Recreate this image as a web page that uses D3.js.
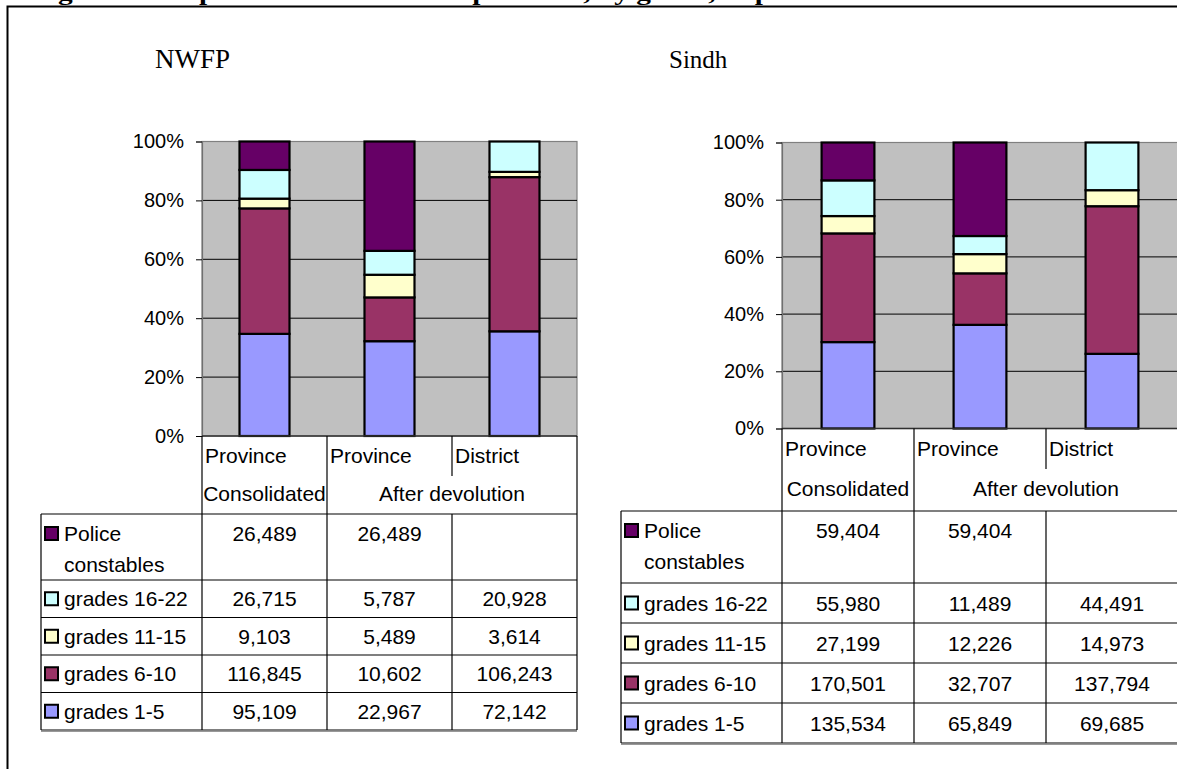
<!DOCTYPE html>
<html>
<head>
<meta charset="utf-8">
<script src="https://cdn.jsdelivr.net/npm/d3@7"></script>
<style>
  html, body { margin: 0; padding: 0; background: #fff; }
  svg { display: block; }
  .sans { font-family: "Liberation Sans", Arial, sans-serif; }
  .serif { font-family: "Liberation Serif", "Times New Roman", serif; }
</style>
</head>
<body>
<svg id="chart" width="1177" height="769"></svg>
<script>
// Sanctioned positions by grade, province-level vs district-level
const categories = ["Province", "Province", "District"];
const groupLabels = ["Consolidated", "After devolution"];
const seriesKeys = ["police", "g16", "g11", "g6", "g1"];
const seriesNames = ["Police constables", "grades 16-22", "grades 11-15", "grades 6-10", "grades 1-5"];
const seriesColors = ["#660066", "#CCFFFF", "#FFFFCC", "#993366", "#9999FF"];
const yTicks = [0, 0.2, 0.4, 0.6, 0.8, 1];

// NWFP
const nwfpPolice = [26489, 26489, null];
const nwfpG16 = [26715, 5787, 20928];
const nwfpG11 = [9103, 5489, 3614];
const nwfpG6 = [116845, 10602, 106243];
const nwfpG1 = [95109, 22967, 72142];

// Sindh
const sindhPolice = [59404, 59404, null];
const sindhG16 = [55980, 11489, 44491];
const sindhG11 = [27199, 12226, 14973];
const sindhG6 = [170501, 32707, 137794];
const sindhG1 = [135534, 65849, 69685];

const svg = d3.select("#chart");
const fmt = d3.format(",");
const pct = d3.format(".0%");
const TABLE_FONT = 21;

// page frame and the running heading that sits above the page edge
svg.append("path").attr("d", "M7.5,769V6.5H1177")
  .attr("fill", "none").attr("stroke", "#000").attr("stroke-width", 2);
svg.append("text").attr("class", "serif")
  .attr("x", 32).attr("y", 0)
  .attr("font-size", 22).attr("font-weight", "bold")
  .attr("textLength", 1077).attr("lengthAdjust", "spacingAndGlyphs")
  .text("Figure 4: Proportion of sanctioned positions, by grade, at provincial and district levels");

function buildRows(police, g16, g11, g6, g1) {
  return categories.map((c, i) => ({
    idx: i,
    police: police[i] || 0, g16: g16[i] || 0, g11: g11[i] || 0, g6: g6[i] || 0, g1: g1[i] || 0
  }));
}

function drawPanel(cfg, name, seriesArrays) {
  const g = svg.append("g");
  const rows = buildRows(...seriesArrays);

  g.append("text").attr("class", "serif")
    .attr("x", cfg.titleX).attr("y", 68).attr("font-size", cfg.titleSize)
    .text(name);

  const x = d3.scaleBand().domain(d3.range(categories.length))
    .range([cfg.axisX, cfg.plotRight]).paddingInner(0.6).paddingOuter(0.3);
  const col = d3.scaleBand().domain(d3.range(categories.length))
    .range([cfg.axisX, cfg.plotRight]).padding(0);
  const y = d3.scaleLinear().domain([0, 1]).range([cfg.plotBottom, cfg.plotTop]);

  // plot background
  g.append("rect")
    .attr("x", cfg.axisX).attr("y", cfg.plotTop)
    .attr("width", cfg.plotRight - cfg.axisX).attr("height", cfg.plotBottom - cfg.plotTop)
    .attr("fill", "#C0C0C0").attr("stroke", "#808080").attr("stroke-width", 1.2);

  // gridlines
  g.append("g").selectAll("line").data(yTicks.filter(t => t > 0 && t < 1)).join("line")
    .attr("x1", cfg.axisX).attr("x2", cfg.plotRight)
    .attr("y1", d => y(d)).attr("y2", d => y(d))
    .attr("stroke", "#000").attr("stroke-width", 1);

  // value axis
  const yAxis = d3.axisLeft(y).tickValues(yTicks).tickFormat(pct).tickSize(6).tickPadding(12);
  const ya = g.append("g").attr("transform", `translate(${cfg.axisX},0)`).call(yAxis);
  ya.select(".domain").attr("stroke", "#707070").attr("stroke-width", 1.2);
  ya.selectAll(".tick line").attr("stroke", "#000");
  ya.selectAll(".tick text").attr("class", "sans").attr("font-size", 20).attr("fill", "#000");

  // stacked 100% bars
  const stack = d3.stack().keys(seriesKeys.slice().reverse()).offset(d3.stackOffsetExpand);
  const layers = stack(rows);
  const colorOf = d3.scaleOrdinal().domain(seriesKeys).range(seriesColors);
  g.append("g").selectAll("g").data(layers).join("g")
    .attr("fill", d => colorOf(d.key))
    .selectAll("rect").data(d => d.filter(p => p[1] - p[0] > 0)).join("rect")
    .attr("x", d => x(d.data.idx)).attr("width", x.bandwidth())
    .attr("y", d => y(d[1])).attr("height", d => y(d[0]) - y(d[1]))
    .attr("stroke", "#000").attr("stroke-width", 2.2);

  // category axis line
  g.append("line").attr("x1", cfg.axisX).attr("x2", cfg.plotRight)
    .attr("y1", cfg.plotBottom).attr("y2", cfg.plotBottom)
    .attr("stroke", "#303030").attr("stroke-width", 1.5);

  // data table
  const tbl = g.append("g").attr("class", "sans");
  const rowTops = [cfg.tableTop];
  cfg.rowHeights.forEach((h, i) => rowTops.push(rowTops[i] + h));
  const tableBottom = rowTops[rowTops.length - 1];
  const lineAttrs = sel => sel.attr("stroke", "#000").attr("stroke-width", 1.2);

  rowTops.forEach(yy => {
    tbl.append("line").attr("x1", cfg.tableLeft).attr("x2", cfg.plotRight)
      .attr("y1", yy).attr("y2", yy).call(lineAttrs);
  });
  // soft shadow under the last row
  tbl.append("line").attr("x1", cfg.tableLeft).attr("x2", cfg.plotRight)
    .attr("y1", tableBottom + 1.5).attr("y2", tableBottom + 1.5)
    .attr("stroke", "#999").attr("stroke-width", 1);
  tbl.append("line").attr("x1", cfg.tableLeft).attr("x2", cfg.tableLeft)
    .attr("y1", cfg.tableTop).attr("y2", tableBottom).call(lineAttrs);
  [0, 1].forEach(i => {
    tbl.append("line").attr("x1", col(i)).attr("x2", col(i))
      .attr("y1", cfg.plotBottom).attr("y2", tableBottom).call(lineAttrs);
  });
  tbl.append("line").attr("x1", cfg.plotRight).attr("x2", cfg.plotRight)
    .attr("y1", cfg.plotBottom).attr("y2", tableBottom).call(lineAttrs);
  tbl.append("line").attr("x1", col(2)).attr("x2", col(2))
    .attr("y1", cfg.plotBottom).attr("y2", cfg.shortLineBottom).call(lineAttrs);
  tbl.append("line").attr("x1", col(2)).attr("x2", col(2))
    .attr("y1", cfg.tableTop).attr("y2", tableBottom).call(lineAttrs);

  // header: category names, then grouping labels
  tbl.selectAll("text.cat").data(categories).join("text").attr("class", "cat")
    .attr("x", (d, i) => col(i) + 3).attr("y", cfg.header1Y)
    .attr("font-size", TABLE_FONT).text(d => d);
  tbl.append("text").attr("x", col(0) + col.bandwidth() / 2).attr("y", cfg.header2Y)
    .attr("text-anchor", "middle").attr("font-size", TABLE_FONT).text(groupLabels[0]);
  tbl.append("text").attr("x", (col(1) + cfg.plotRight) / 2).attr("y", cfg.header2Y)
    .attr("text-anchor", "middle").attr("font-size", TABLE_FONT).text(groupLabels[1]);

  // body rows: legend key + values
  seriesArrays.forEach((vals, si) => {
    const top = rowTops[si];
    const h = cfg.rowHeights[si];
    const base = si === 0 ? top + 27 : top + h / 2 + 7.5;
    tbl.append("rect")
      .attr("x", cfg.tableLeft + 4).attr("y", base - 14)
      .attr("width", 13).attr("height", 13)
      .attr("fill", seriesColors[si]).attr("stroke", "#000").attr("stroke-width", 2);
    const words = seriesNames[si] === "Police constables" ? ["Police", "constables"] : [seriesNames[si]];
    words.forEach((w, wi) => {
      tbl.append("text").attr("x", cfg.tableLeft + 23).attr("y", base + wi * 31)
        .attr("font-size", TABLE_FONT).text(w);
    });
    vals.forEach((v, ci) => {
      if (v == null) return;
      tbl.append("text").attr("x", col(ci) + col.bandwidth() / 2).attr("y", base)
        .attr("text-anchor", "middle").attr("font-size", TABLE_FONT).text(fmt(v));
    });
  });
}

drawPanel({
  titleX: 155, titleSize: 27, axisX: 202, plotRight: 577, plotTop: 141.5, plotBottom: 436,
  tableLeft: 41, tableTop: 514, rowHeights: [66, 37.5, 37.5, 37.5, 37.5],
  header1Y: 463, header2Y: 501, shortLineBottom: 476
}, "NWFP", [nwfpPolice, nwfpG16, nwfpG11, nwfpG6, nwfpG1]);

drawPanel({
  titleX: 669, titleSize: 25, axisX: 782, plotRight: 1178, plotTop: 142.5, plotBottom: 428.5,
  tableLeft: 621, tableTop: 511, rowHeights: [72, 40, 40, 40, 40],
  header1Y: 456, header2Y: 496, shortLineBottom: 469
}, "Sindh", [sindhPolice, sindhG16, sindhG11, sindhG6, sindhG1]);
</script>
</body>
</html>
